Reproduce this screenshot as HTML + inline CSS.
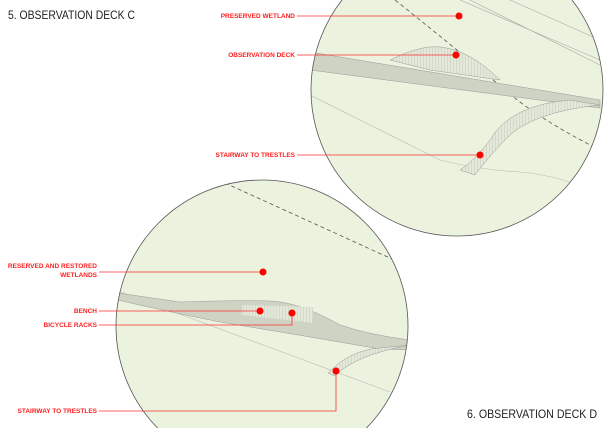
<!DOCTYPE html>
<html><head><style>
html,body{margin:0;padding:0;background:#fff;width:605px;height:428px;overflow:hidden}
svg{display:block;overflow:hidden}
.t{font-family:"Liberation Sans",sans-serif;font-size:11.5px;fill:#222}
.l{font-family:"Liberation Sans",sans-serif;font-size:6.5px;fill:#ff2020;font-weight:bold}
</style></head><body>
<svg width="605" height="428" viewBox="0 0 605 428">
<defs>
<clipPath id="c1"><circle cx="457" cy="90" r="146"/></clipPath>
<clipPath id="c2"><circle cx="262" cy="326" r="146"/></clipPath>
<pattern id="h" width="3" height="3" patternUnits="userSpaceOnUse"><rect width="3" height="3" fill="#e4e8d8"/><line x1="0" y1="0" x2="0" y2="3" stroke="#999" stroke-width="0.4"/></pattern>
</defs>
<circle cx="457" cy="90" r="146" fill="#ebf2de"/>
<g clip-path="url(#c1)" fill="none">
<path d="M395 0 Q470 60 505 90 T600 150" stroke="#555" stroke-dasharray="4,3" stroke-width="0.8"/>
<path d="M460 0 L600 60 M470 0 L600 65 M510 0 L600 40" stroke="#aaa" stroke-width="0.6"/>
<path d="M310 95 L440 160 Q480 170 520 172 Q560 175 600 195" stroke="#bbb" stroke-width="0.6"/>
<path d="M390 60 Q420 45 440 47 Q470 50 500 80 L430 70 Z" fill="url(#h)" stroke="#999" stroke-width="0.5"/>
<path d="M310 52 L600 100 L600 108 L310 70 Z" fill="#cfd3c4" stroke="#999" stroke-width="0.5"/>
<path d="M570 100 Q510 105 490 140 Q475 160 460 170 L475 175 Q490 155 505 140 Q530 112 600 105 Z" fill="url(#h)" stroke="#999" stroke-width="0.5"/>
</g>
<circle cx="457" cy="90" r="146" fill="none" stroke="#555" stroke-width="0.8"/>
<circle cx="262" cy="326" r="146" fill="#ebf2de"/>
<g clip-path="url(#c2)" fill="none">
<path d="M225 183 L392 259" stroke="#555" stroke-dasharray="4,3" stroke-width="0.8"/>
<path d="M115 290 L390 392" stroke="#bbb" stroke-width="0.6"/>
<path d="M118 293 L180 302 Q240 300 270 301 Q300 302 340 325 Q370 335 410 340 L410 350 L380 349 Q300 335 220 322 Q160 310 118 300 Z" fill="#cfd3c4" stroke="#999" stroke-width="0.5"/>
<path d="M242 305 L313 307 L313 323 L242 315 Z" fill="url(#h)"/>
<path d="M380 348 Q350 350 328 373 L335 376 Q355 355 410 345 Z" fill="url(#h)" stroke="#999" stroke-width="0.5"/>
</g>
<circle cx="262" cy="326" r="146" fill="none" stroke="#555" stroke-width="0.8"/>
<text class="t" x="8" y="19" textLength="127" lengthAdjust="spacingAndGlyphs">5. OBSERVATION DECK C</text>
<text class="t" x="467" y="418" textLength="130" lengthAdjust="spacingAndGlyphs">6. OBSERVATION DECK D</text>
<g stroke="#ff3030" stroke-width="0.8" fill="none">
<path d="M297 16H459M297 55H456M297 155H480"/>
<path d="M99 272H263M99 311H260M99 325H292V313M99 411H336V371"/>
</g>
<g fill="#ff0000">
<circle cx="459" cy="16" r="3.5"/><circle cx="456" cy="55" r="3.5"/><circle cx="480" cy="155" r="3.5"/>
<circle cx="263" cy="272" r="3.5"/><circle cx="260" cy="311" r="3.5"/><circle cx="292" cy="313" r="3.5"/><circle cx="336" cy="371" r="3.5"/>
</g>
<g text-anchor="end">
<text class="l" x="295" y="18">PRESERVED WETLAND</text>
<text class="l" x="295" y="57">OBSERVATION DECK</text>
<text class="l" x="295" y="157">STAIRWAY TO TRESTLES</text>
<text class="l" x="97" y="268">RESERVED AND RESTORED</text>
<text class="l" x="97" y="277">WETLANDS</text>
<text class="l" x="97" y="313">BENCH</text>
<text class="l" x="97" y="327">BICYCLE RACKS</text>
<text class="l" x="97" y="413">STAIRWAY TO TRESTLES</text>
</g>
</svg>
</body></html>
